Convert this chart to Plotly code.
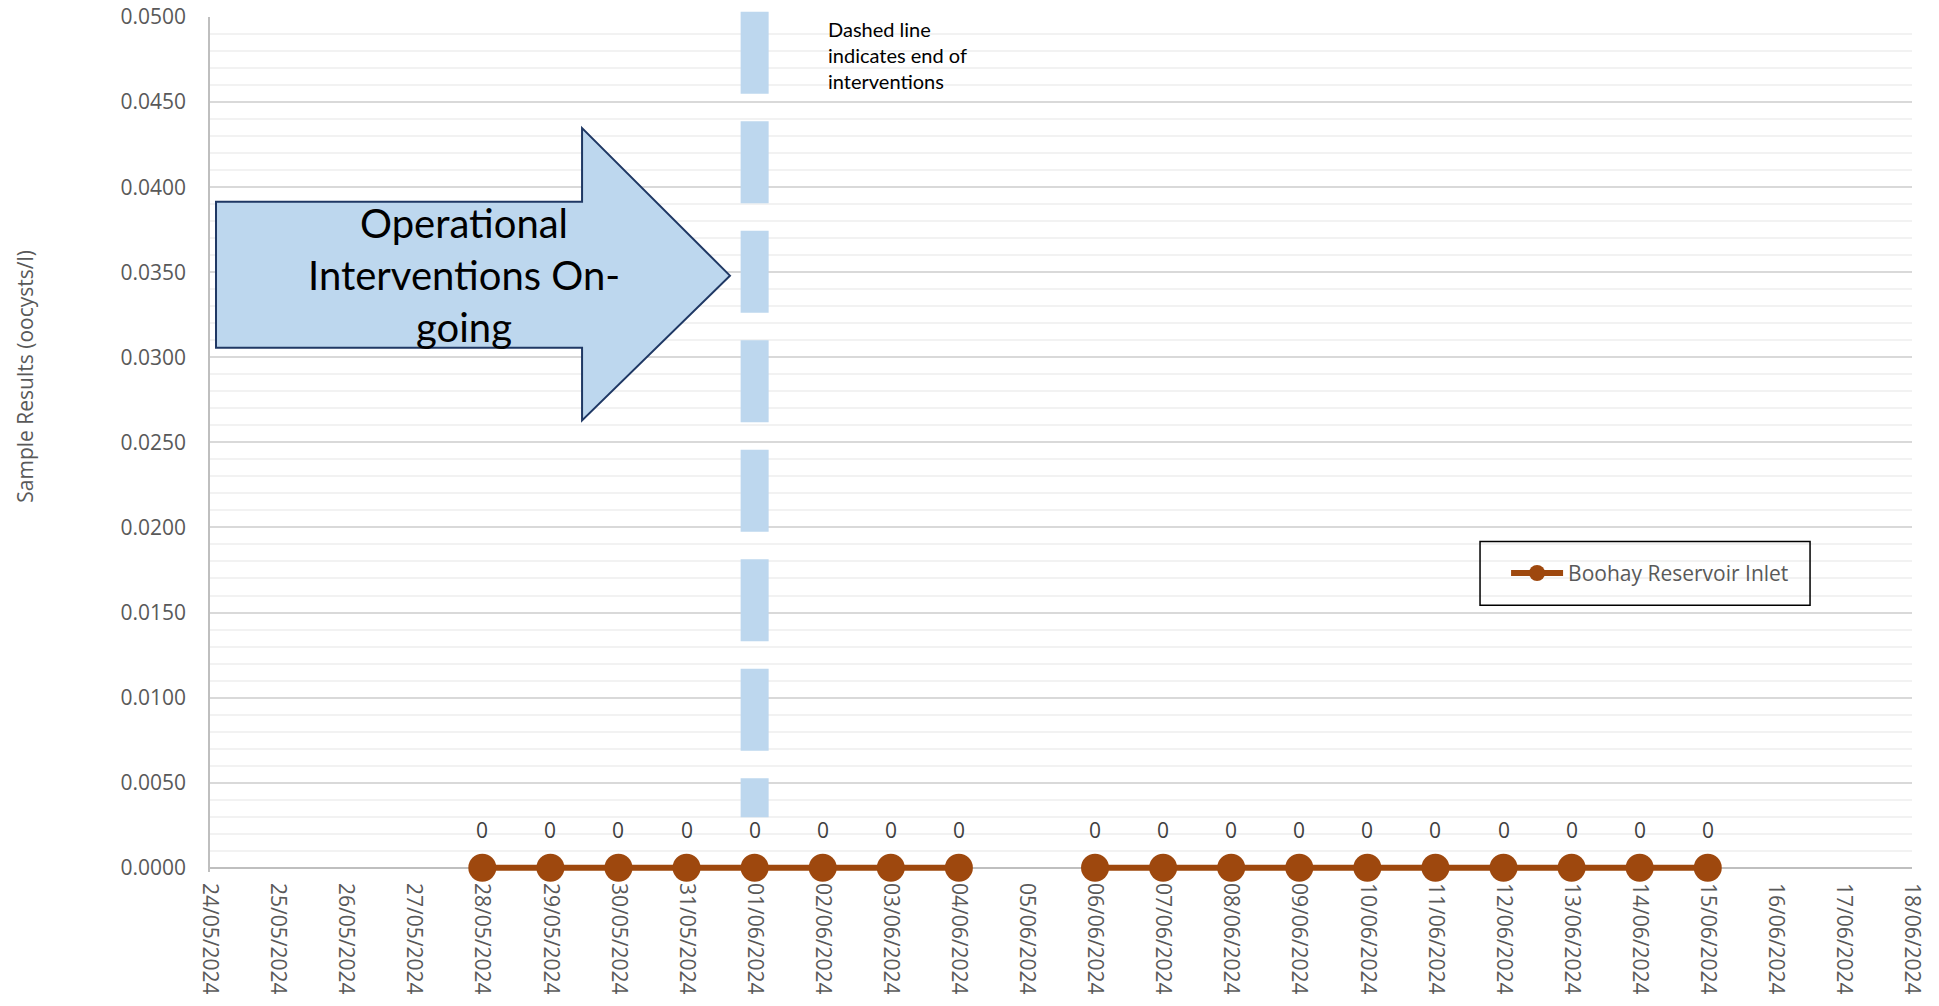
import plotly.graph_objects as go

# ---- data ----
dates = ["2024-05-28", "2024-05-29", "2024-05-30", "2024-05-31", "2024-06-01",
         "2024-06-02", "2024-06-03", "2024-06-04", "2024-06-05",
         "2024-06-06", "2024-06-07", "2024-06-08", "2024-06-09", "2024-06-10",
         "2024-06-11", "2024-06-12", "2024-06-13", "2024-06-14", "2024-06-15"]
results = [0, 0, 0, 0, 0, 0, 0, 0, None, 0, 0, 0, 0, 0, 0, 0, 0, 0, 0]
series_name = "Boohay Reservoir Inlet"
x_range = ["2024-05-24", "2024-06-18"]
y_range = [-0.00025, 0.05]
interventions_end = "2024-06-01"
arrow_text = "Operational<br>Interventions On-<br>going"
note_text = "Dashed line<br>indicates end of<br>interventions"
y_title = "Sample Results (oocysts/l)"

BROWN = "#9E480E"
LIGHTBLUE = "#BDD7EE"
GREY_TXT = "#595959"
TICK_FONT = dict(family="Open Sans", size=21, color=GREY_TXT)

fig = go.Figure()
fig.add_trace(go.Scatter(
    x=dates, y=results, name=series_name, mode="lines+markers",
    line=dict(color=BROWN, width=6), marker=dict(color=BROWN, size=28),
    connectgaps=False, showlegend=True, cliponaxis=False,
))

# data labels
for d, v in zip(dates, results):
    if v is None:
        continue
    fig.add_annotation(x=d, y=v, text=str(v), showarrow=False, yshift=38,
                       font=dict(family="Open Sans", size=21, color="#404040"))

# dashed vertical line marking end of interventions
fig.add_shape(type="line", xref="x", yref="paper",
              x0=interventions_end, x1=interventions_end, y0=1.0062, y1=0.0641,
              line=dict(color=LIGHTBLUE, width=28, dash="82px,27.5px"), layer="above")

# block arrow (paper coords, plot area)
fig.add_shape(type="path", xref="paper", yref="paper",
              path="M 0.00353,0.7840 L 0.2186,0.7840 L 0.2186,0.8700 L 0.3055,0.6975 "
                   "L 0.2186,0.5281 L 0.2186,0.6131 L 0.00353,0.6131 Z",
              fillcolor=LIGHTBLUE, line=dict(color="#1F3864", width=2), layer="above")
fig.add_annotation(xref="paper", yref="paper", x=0.1492, y=0.6979, text=arrow_text,
                   showarrow=False, xanchor="center", yanchor="middle", align="center",
                   font=dict(family="Lato", size=40, color="black"))

fig.add_annotation(xref="paper", yref="paper", x=0.3619, y=0.9550, text=note_text,
                   showarrow=False, xanchor="left", yanchor="middle", align="left",
                   font=dict(family="Lato", size=20, color="black"))

# y axis title
fig.add_annotation(xref="paper", yref="paper", x=-0.1087, y=0.5805, text=y_title,
                   showarrow=False, textangle=-90, xanchor="center", yanchor="middle",
                   font=TICK_FONT)

# legend box
fig.add_shape(type="rect", xref="paper", yref="paper",
              x0=0.7462, x1=0.9401, y0=0.3120, y1=0.3866,
              line=dict(color="black", width=1.5), fillcolor="rgba(0,0,0,0)", layer="above")

fig.update_layout(
    width=1939, height=1006,
    margin=dict(l=210, r=27, t=17, b=134),
    paper_bgcolor="white", plot_bgcolor="white",
    showlegend=True,
    legend=dict(x=0.7615, y=0.3493, xanchor="left", yanchor="middle",
                bgcolor="rgba(0,0,0,0)", borderwidth=0, itemwidth=52,
                font=dict(family="Open Sans", size=21, color=GREY_TXT)),
    xaxis=dict(type="date", range=x_range, dtick=86400000, tick0="2024-05-24",
               tickformat="%d/%m/%Y", tickangle=90, showgrid=False,
               showline=False, ticks="",
               ticklabelstandoff=10, tickfont=TICK_FONT, zeroline=False,
               automargin=False, layer="below traces"),
    yaxis=dict(range=y_range, dtick=0.005, tick0=0, tickformat=".4f",
               showgrid=True, gridcolor="#D9D9D9", gridwidth=1.5,
               minor=dict(dtick=0.001, showgrid=True, gridcolor="#F2F2F2", gridwidth=1.5),
               showline=True, linecolor="#BFBFBF", linewidth=1.5, ticks="",
               zeroline=True, zerolinecolor="#BFBFBF", zerolinewidth=1.5,
               ticklabelstandoff=18, tickfont=TICK_FONT,
               automargin=False, layer="below traces"),
)

fig.write_html("out.html")
